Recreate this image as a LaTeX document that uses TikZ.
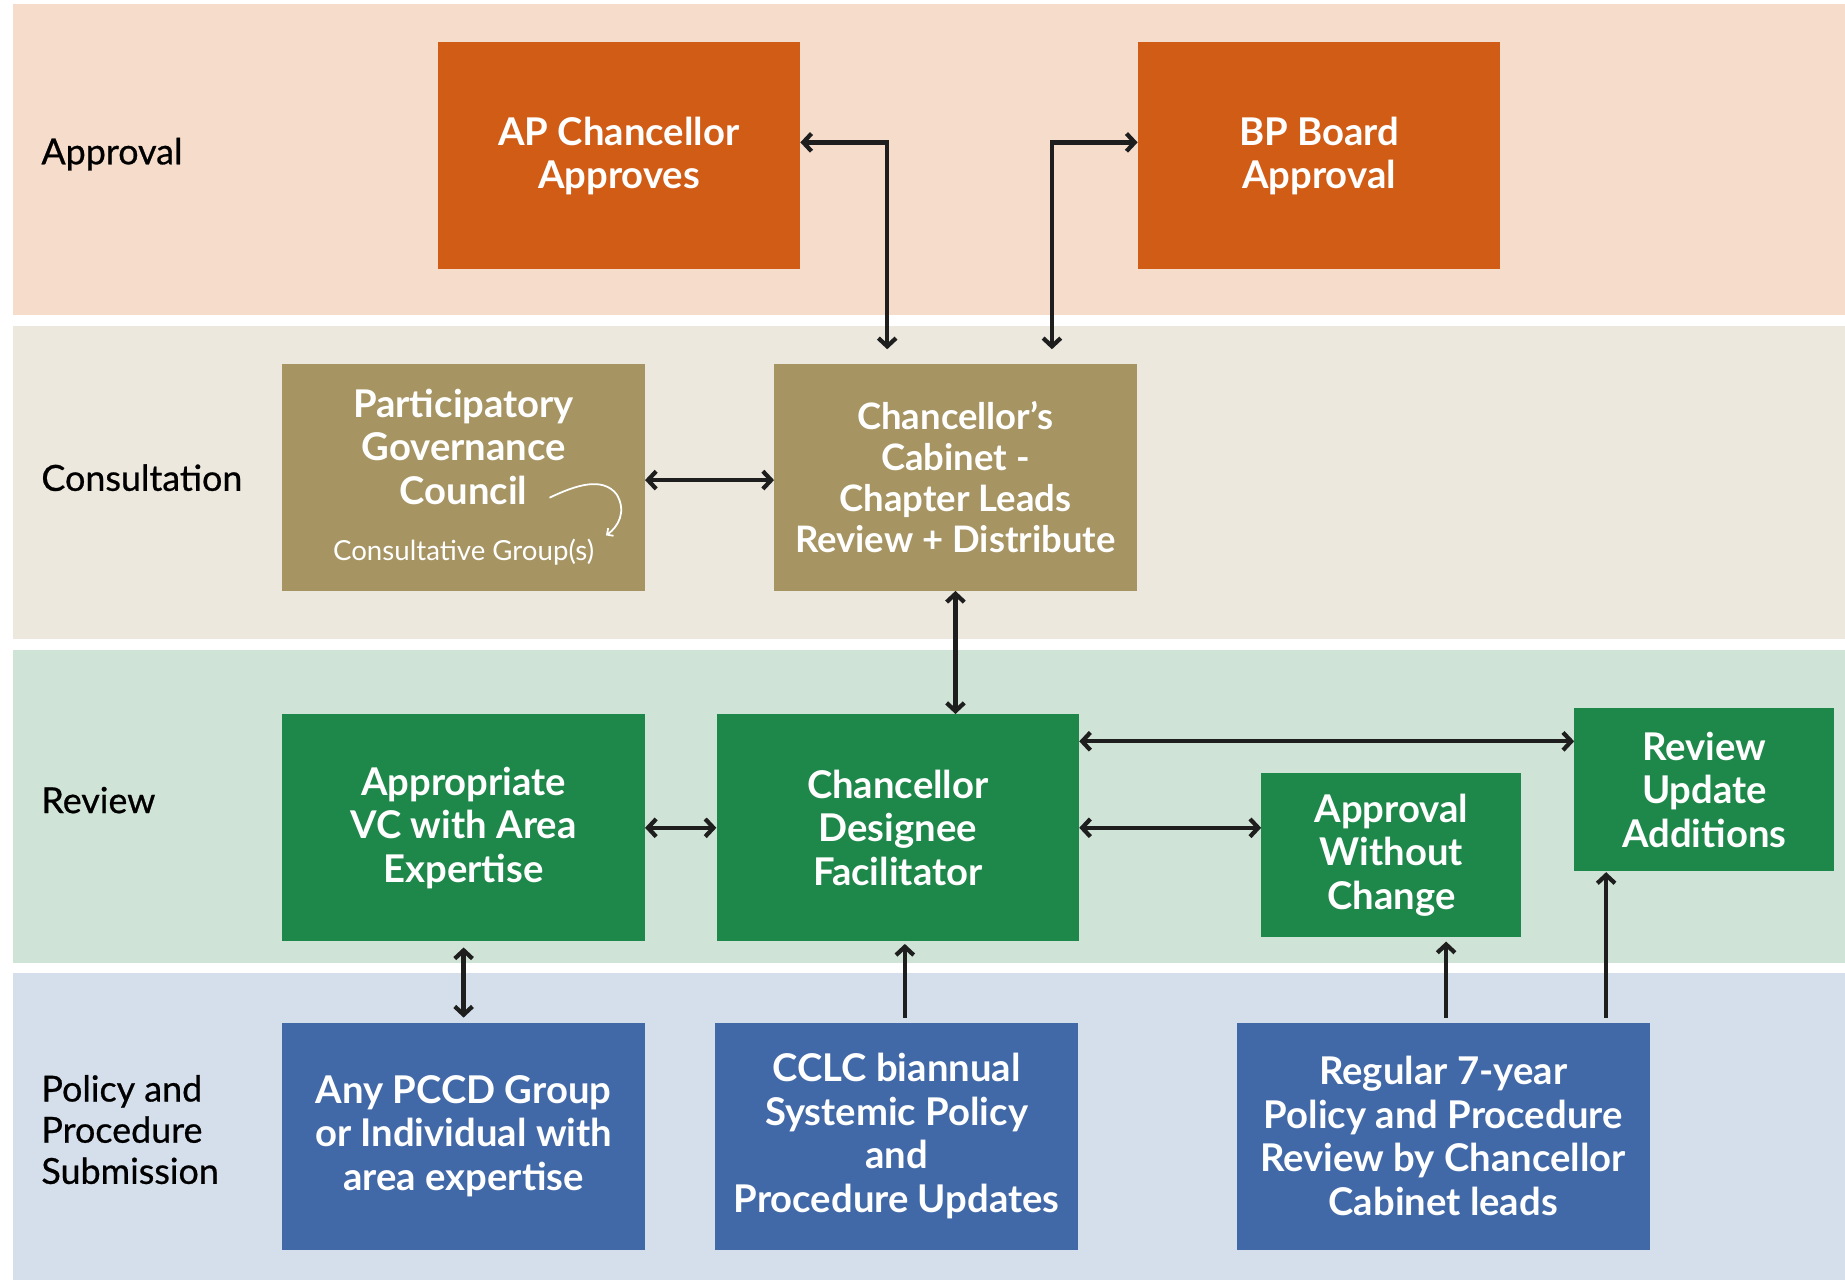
\documentclass[tikz,border=0pt]{standalone}
\usepackage{fontspec}
\setmainfont{Lato}
\newfontfamily\stagefont[FakeBold=0.7]{Lato}
\usetikzlibrary{arrows.meta,calc}

\definecolor{approvalband}{HTML}{F6DCCB}
\definecolor{consultband}{HTML}{EDE8DD}
\definecolor{reviewband}{HTML}{CFE4D7}
\definecolor{submitband}{HTML}{D5DFEC}
\definecolor{approvalbox}{HTML}{D05C16}
\definecolor{consultbox}{HTML}{A69462}
\definecolor{reviewbox}{HTML}{1E874A}
\definecolor{submitbox}{HTML}{4169A8}
\definecolor{linkcol}{HTML}{1E1E1E}

\tikzset{
	box/.style={minimum width=308pt, minimum height=193pt, align=center, text=white, inner sep=0pt,
		font=\bfseries\fontsize{32.5}{37}\selectfont},
	smallbox/.style={box, minimum width=221pt, minimum height=139pt},
	stage/.style={anchor=west, align=left, inner sep=0pt, font=\stagefont\fontsize{30.5}{35}\selectfont},
	link/.style={linkcol, line width=3.6pt, {Straight Barb[length=7pt,width=15pt]}-{Straight Barb[length=7pt,width=15pt]}},
	uplink/.style={linkcol, line width=3.6pt, -{Straight Barb[length=7pt,width=15pt]}},
}

\begin{document}
\begin{tikzpicture}[x=1pt,y=-1pt]
	\useasboundingbox (0,0) rectangle (1568,1088);
	\fill[white] (0,0) rectangle (1568,1088);
	\fill[approvalband] (11,3) rectangle (1568,268);
	\fill[consultband] (11,277) rectangle (1568,543);
	\fill[reviewband] (11,552) rectangle (1568,818);
	\fill[submitband] (11,827) rectangle (1568,1088);

	\node[stage] (lapproval) at (35,131) {Approval};
	\node[stage] (lconsult) at (35,406) {Consultation};
	\node[stage] (lreview) at (35,680) {Review};
	\node[stage] (lsubmit) at (35,960) {Policy and\\Procedure\\Submission};

	\node[box, fill=approvalbox] (apc) at (526,132.5) {AP Chancellor\\Approves};
	\node[box, fill=approvalbox] (bpb) at (1121,132.5) {BP Board\\Approval};

	\node[box, fill=consultbox] (pgc) at (394,405.5) {Participatory\\Governance\\Council\\[11pt]{\mdseries\fontsize{23.5}{26}\selectfont Consultative Group(s)}};
	\node[box, fill=consultbox, font=\bfseries\fontsize{31}{35}\selectfont] (cab) at (812,405.5) {Chancellor’s\\Cabinet -\\Chapter Leads\\Review + Distribute};

	\node[box, fill=reviewbox] (avc) at (394,703.5) {Appropriate\\VC with Area\\Expertise};
	\node[box, fill=reviewbox] (cdf) at (763,703.5) {Chancellor\\Designee\\Facilitator};
	\node[smallbox, fill=reviewbox] (awc) at (1182.5,726.5) {Approval\\Without\\Change};
	\node[smallbox, fill=reviewbox, minimum height=138pt] (rua) at (1448.5,671) {Review\\Update\\Additions};

	\node[box, fill=submitbox] (pccd) at (394,965.5) {Any PCCD Group\\or Individual with\\area expertise};
	\node[box, fill=submitbox] (cclc) at (762,965.5) {CCLC biannual\\Systemic Policy\\and\\Procedure Updates};
	\node[box, fill=submitbox, minimum width=351pt] (reg) at (1226.5,965.5) {Regular 7-year\\Policy and Procedure\\Review by Chancellor\\Cabinet leads};

	\coordinate (curlfrom) at (467,423);
	\coordinate (curlto) at (515,455);
	\draw[white, line width=1.5pt, -{Straight Barb[length=4pt,width=8pt]}] (curlfrom) .. controls (490,412) and (512,405) .. (524,420) .. controls (533,435) and (525,448) .. (curlto);

	\draw[link, shorten >=12pt] ([yshift=11.5pt]apc.east) -| ([xshift=-58pt]cab.north);
	\draw[link, shorten <=12pt] ([xshift=82pt]cab.north) |- ([yshift=11.5pt]bpb.west);
	\draw[link] ([yshift=-2.5pt]pgc.east) -- ([yshift=-2.5pt]cab.west);
	\draw[link] (cab.south) -- (cab.south |- cdf.north);
	\draw[link] (avc.east) -- (cdf.west);
	\draw[link] (cdf.east) -- (cdf.east -| awc.west);
	\draw[link] ([yshift=41pt]rua.west) -- ([yshift=41pt]rua.west -| cdf.east);
	\draw[link, shorten <=5pt, shorten >=4pt] (avc.south) -- (pccd.north);
	\draw[uplink, shorten <=4pt, shorten >=2pt] ([xshift=7pt]cclc.north) -- ([xshift=7pt]cclc.north |- cdf.south);
	\draw[uplink, shorten <=4pt, shorten >=4pt] ([xshift=2.5pt]reg.north) -- ([xshift=2.5pt]reg.north |- awc.south);
	\draw[uplink, shorten <=4pt, shorten >=1pt] ([xshift=138.5pt]reg.north) -- ([xshift=138.5pt]reg.north |- rua.south);
\end{tikzpicture}
\end{document}
